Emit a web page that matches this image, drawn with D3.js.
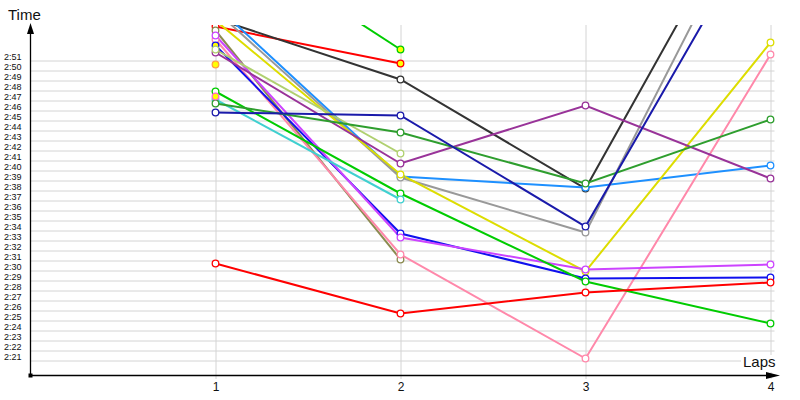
<!DOCTYPE html>
<html>
<head>
<meta charset="utf-8">
<script src="https://cdn.jsdelivr.net/npm/d3@7"></script>
<style>
  body { margin: 0; background: #fff; }
  svg { display: block; font-family: "Liberation Sans", Arial, sans-serif; }
</style>
</head>
<body>
<svg id="chart" width="800" height="400"></svg>
<script>
// lap numbers on the x axis
var laps = [1, 2, 3, 4];

// y gridline values, in seconds (2:21 .. 2:51)
var timeTicks = d3.range(141, 172);

// one colour per driver
var driverColors = [
    '#ff0000', '#00cc00', '#333333', '#1e90ff', '#999999', '#dddd00',
    '#8b8b50', '#ff88aa', '#1010ee', '#cc44ff', '#993399', '#b0d070',
    '#00cc00', '#40d0d0', '#2e9e2e', '#1a1aaa', '#ff0000', '#ffa040',
    '#ff66cc'
];

// lap times in seconds, one row per driver, null = no lap
var lapTimes = [
    [174.4, 170.7, null, null],
    [184.1, 172.1, null, null],
    [175.2, 169.1, 158.2, 191.3],
    [176.5, 159.4, 158.3, 160.5],
    [176.0, 159.3, 153.8, 190.0],
    [175.0, 159.6, 149.9, 172.8],
    [174.0, 151.1, null, null],
    [173.1, 151.6, 141.2, 171.6],
    [172.5, 153.7, 149.2, 149.3],
    [173.5, 153.3, 150.1, 150.6],
    [171.8, 160.7, 166.5, 159.2],
    [172.1, 161.7, null, null],
    [167.9, 157.7, 148.9, 144.7],
    [167.1, 157.1, null, null],
    [166.7, 163.8, 158.7, 165.1],
    [165.8, 165.5, 154.4, 186.5],
    [150.7, 145.7, 147.8, 148.8],
    [170.6, null, null, null],
    [167.4, null, null, null]
];

// [driver, lap index] of markers drawn with a yellow fill
var yellowMarks = [[0, 1], [1, 1], [8, 0], [17, 0], [18, 0]];

var svg = d3.select('svg#chart');

var x = d3.scaleLinear().domain([0, 4]).range([30.5, 770.5]);
var y = d3.scaleLinear().domain([141, 171]).range([360.5, 60.5]);

var fmt = function (s) {
    var m = Math.floor(s / 60);
    var r = s - m * 60;
    return m + ':' + (r < 10 ? '0' : '') + r;
};

// horizontal gridlines + time labels
var yAxis = svg.append('g')
    .attr('transform', 'translate(30.5,0)')
    .call(d3.axisLeft(y).tickValues(timeTicks).tickSize(-744).tickFormat(fmt));
yAxis.select('.domain').remove();
yAxis.selectAll('line').attr('stroke', '#d4d4d4');
yAxis.selectAll('text')
    .attr('x', -26.5)
    .attr('dy', '-1.5')
    .attr('text-anchor', 'start')
    .attr('fill', '#111')
    .style('font-size', '9px')
    .style('font-family', '"Liberation Sans", Arial, sans-serif');

// vertical gridlines + lap labels
var xAxis = svg.append('g')
    .attr('transform', 'translate(0,375)')
    .call(d3.axisBottom(x).tickValues(laps).tickSize(-350).tickFormat(d3.format('d')));
xAxis.select('.domain').remove();
xAxis.selectAll('line').attr('stroke', '#d4d4d4').attr('y2', -350).attr('y1', 4);
xAxis.selectAll('text')
    .attr('y', 16)
    .attr('dy', '0')
    .attr('fill', '#111')
    .style('font-size', '12px')
    .style('font-family', '"Liberation Sans", Arial, sans-serif');

// clip the series to the plot
svg.append('clipPath').attr('id', 'plot')
    .append('rect').attr('x', 0).attr('y', 25).attr('width', 800).attr('height', 350);

var plot = svg.append('g').attr('clip-path', 'url(#plot)');

var line = d3.line()
    .defined(function (d) { return d != null; })
    .x(function (d, i) { return x(laps[i]); })
    .y(function (d) { return y(d); });

plot.selectAll('path.series')
    .data(lapTimes)
    .enter().append('path')
    .classed('series', true)
    .attr('d', line)
    .attr('fill', 'none')
    .attr('stroke', function (d, i) { return driverColors[i]; })
    .attr('stroke-width', 2);

var isYellow = function (si, li) {
    return yellowMarks.some(function (m) { return m[0] === si && m[1] === li; });
};

var points = [];
lapTimes.forEach(function (row, si) {
    row.forEach(function (t, li) {
        if (t != null) points.push({ si: si, li: li, t: t });
    });
});

plot.selectAll('circle.mark')
    .data(points)
    .enter().append('circle')
    .classed('mark', true)
    .attr('cx', function (d) { return x(laps[d.li]); })
    .attr('cy', function (d) { return y(d.t); })
    .attr('r', 3.3)
    .attr('fill', function (d) { return isYellow(d.si, d.li) ? '#ffff00' : '#fff'; })
    .attr('stroke', function (d) { return driverColors[d.si]; })
    .attr('stroke-width', 1.3);

// axes with arrows
svg.append('line')
    .attr('x1', 30.5).attr('x2', 30.5).attr('y1', 30).attr('y2', 375.5)
    .attr('stroke', '#000').attr('stroke-width', 1.3);
svg.append('path')
    .attr('d', 'M30.5,23 L27,34 L34,34 Z')
    .attr('fill', '#000');

svg.append('rect')
    .attr('x', 741).attr('y', 355).attr('width', 36).attr('height', 17)
    .attr('fill', '#fff');
svg.append('line')
    .attr('x1', 30.5).attr('x2', 772).attr('y1', 375.5).attr('y2', 375.5)
    .attr('stroke', '#000').attr('stroke-width', 1.3);
svg.append('path')
    .attr('d', 'M780,375.5 L766,372 L766,379 Z')
    .attr('fill', '#000');

svg.append('rect')
    .attr('x', 28.5).attr('y', 373.5).attr('width', 4).attr('height', 4)
    .attr('fill', '#000');

svg.append('text')
    .attr('x', 8).attr('y', 20)
    .style('font-size', '15px')
    .attr('fill', '#111')
    .text('Time');

svg.append('text')
    .attr('x', 743).attr('y', 367)
    .style('font-size', '15px')
    .attr('fill', '#111')
    .text('Laps');
</script>
</body>
</html>
